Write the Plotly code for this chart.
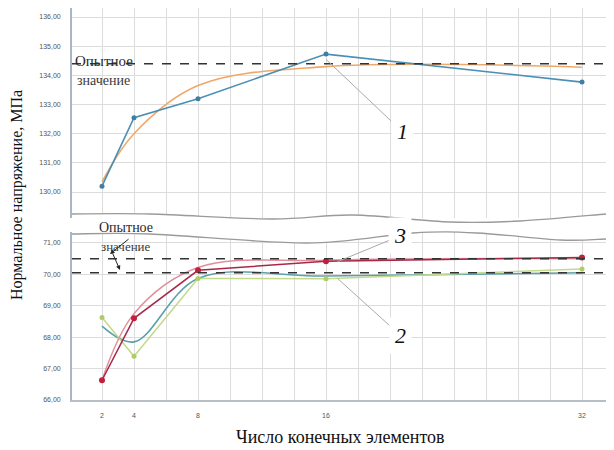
import plotly.graph_objects as go

# ---------------- data ----------------
x_elems = [2, 4, 8, 16, 32]
x_ticklabels = ["2", "4", "8", "16", "32"]

# upper panel (curve 1)
top_fem = [130.2, 132.55, 133.2, 134.73, 133.77]      # blue, with markers
top_fit = [130.35, 132.0, 133.65, 134.3, 134.28]       # orange smooth
exp_top = 134.4                                         # experimental value

# lower panel (curves 2 and 3)
bot_red = [66.63, 68.6, 70.13, 70.42, 70.54]           # dark red, markers
bot_red_fit = [66.63, 68.75, 70.22, 70.45, 70.5]       # pink smooth
bot_green = [68.63, 67.39, 69.87, 69.86, 70.17]        # yellow-green, markers
bot_teal = [68.35, 67.85, 69.87, 69.95, 70.05]         # teal smooth
exp_bot = [70.5, 70.05]                                 # experimental values

top_yticks = [130, 131, 132, 133, 134, 135, 136]
bot_yticks = [66, 67, 68, 69, 70, 71]
top_yticklabels = [f"{v},00" for v in top_yticks]
bot_yticklabels = [f"{v},00" for v in bot_yticks]

# ---------------- layout helpers (window pixel coordinates) ----------------
OFF = 8                      # page body margin
W, H = 614 - OFF, 450 - OFF  # figure size
L, R, T, B = 72, 606, 8, 400  # plot area in window pixels
PW, PH = R - L, B - T


def px(xp):
    return (xp - L) / PW


def py(yp):
    return (B - yp) / PH


def smooth_path(pts):
    P = [(px(a), py(b)) for a, b in pts]
    s = f"M {P[0][0]:.4f},{P[0][1]:.4f}"
    n = len(P)
    for i in range(n - 1):
        p0 = P[i - 1] if i > 0 else P[i]
        p1 = P[i]
        p2 = P[i + 1]
        p3 = P[i + 2] if i + 2 < n else P[i + 1]
        c1 = (p1[0] + (p2[0] - p0[0]) / 6, p1[1] + (p2[1] - p0[1]) / 6)
        c2 = (p2[0] - (p3[0] - p1[0]) / 6, p2[1] - (p3[1] - p1[1]) / 6)
        s += f" C {c1[0]:.4f},{c1[1]:.4f} {c2[0]:.4f},{c2[1]:.4f} {p2[0]:.4f},{p2[1]:.4f}"
    return s


wave_top = [(72, 214), (150, 214), (272, 219), (353, 215), (450, 222), (520, 221), (606, 214)]
wave_bot = [(72, 234), (150, 234), (307, 243), (413, 233), (477, 233), (560, 240), (606, 239)]

grid_c = "#dcdcdc"
serif = "Liberation Serif, Times New Roman, serif"

fig = go.Figure()

# upper panel traces
fig.add_trace(go.Scatter(x=x_elems, y=top_fit, mode="lines", line=dict(color="#f0a868", width=1.6, shape="spline"),
                         xaxis="x2", yaxis="y2", showlegend=False))
fig.add_trace(go.Scatter(x=x_elems, y=top_fem, mode="lines+markers", line=dict(color="#4a8fb5", width=1.6),
                         marker=dict(color="#3f7fa5", size=5), xaxis="x2", yaxis="y2", showlegend=False))

# lower panel traces
fig.add_trace(go.Scatter(x=x_elems, y=bot_teal, mode="lines", line=dict(color="#5aa0aa", width=1.6, shape="spline"),
                         xaxis="x", yaxis="y", showlegend=False))
fig.add_trace(go.Scatter(x=x_elems, y=bot_green, mode="lines+markers", line=dict(color="#c2da8a", width=1.5),
                         marker=dict(color="#b0cc66", size=5), xaxis="x", yaxis="y", showlegend=False))
fig.add_trace(go.Scatter(x=x_elems, y=bot_red_fit, mode="lines", line=dict(color="#e0909c", width=1.5, shape="spline"),
                         xaxis="x", yaxis="y", showlegend=False))
fig.add_trace(go.Scatter(x=x_elems, y=bot_red, mode="lines+markers", line=dict(color="#a82848", width=1.5),
                         marker=dict(color="#c0203c", size=6), xaxis="x", yaxis="y", showlegend=False))

shapes = []
# experimental dashed lines
shapes.append(dict(type="line", xref="paper", yref="y2", x0=0, x1=px(614), y0=exp_top, y1=exp_top,
                   line=dict(color="#333333", width=1.6, dash="dash"), layer="above"))
for v in exp_bot:
    shapes.append(dict(type="line", xref="paper", yref="y", x0=0, x1=px(614), y0=v, y1=v,
                       line=dict(color="#333333", width=1.6, dash="dash"), layer="above"))

# white band between the break waves
band = smooth_path(wave_top)
rev = smooth_path(list(reversed(wave_bot)))
band_path = band + " L" + rev[1:] + " Z"
shapes.append(dict(type="path", xref="paper", yref="paper", path=band_path,
                   fillcolor="white", line=dict(width=0), layer="above"))
shapes.append(dict(type="path", xref="paper", yref="paper", path=smooth_path(wave_top),
                   line=dict(color="#9a9a9a", width=1.3), layer="above"))
shapes.append(dict(type="path", xref="paper", yref="paper", path=smooth_path(wave_bot),
                   line=dict(color="#9a9a9a", width=1.3), layer="above"))

annotations = []
# axis titles
annotations.append(dict(text="Нормальное напряжение, МПа", xref="paper", yref="paper", x=px(17), y=py(195),
                        xanchor="center", yanchor="middle", textangle=-90, showarrow=False,
                        font=dict(family=serif, size=16, color="#111")))
annotations.append(dict(text="Число конечных элементов", xref="paper", yref="paper", x=px(340), y=py(437),
                        xanchor="center", yanchor="middle", showarrow=False,
                        font=dict(family=serif, size=18, color="#111")))

# "Опытное значение" labels
annotations.append(dict(text="Опытное", xref="paper", yref="paper", x=px(73), y=py(61), xanchor="left",
                        yanchor="middle", showarrow=False, font=dict(family=serif, size=15, color="#2a2a2a")))
annotations.append(dict(text="значение", xref="paper", yref="paper", x=px(75), y=py(80), xanchor="left",
                        yanchor="middle", showarrow=False, font=dict(family=serif, size=14, color="#3a3a3a")))
annotations.append(dict(text="Опытное", xref="paper", yref="paper", x=px(97), y=py(227), xanchor="left",
                        yanchor="middle", showarrow=False, font=dict(family=serif, size=14, color="#2a2a2a")))
annotations.append(dict(text="значение", xref="paper", yref="paper", x=px(99), y=py(246), xanchor="left",
                        yanchor="middle", showarrow=False, font=dict(family=serif, size=13, color="#3a3a3a")))
annotations.append(dict(text="", xref="paper", yref="paper", x=px(110), y=py(254), ax=20, ay=-16,
                        showarrow=True, arrowhead=2, arrowsize=0.9, arrowwidth=1, arrowcolor="#222"))
annotations.append(dict(text="", xref="paper", yref="paper", x=px(120), y=py(270), ax=-8, ay=-18,
                        showarrow=True, arrowhead=2, arrowsize=0.9, arrowwidth=1, arrowcolor="#222"))

# curve numbers with leader lines
annotations.append(dict(text="<i>1</i>", xref="x2", yref="y2", x=16, y=134.55, ax=76, ay=72,
                        showarrow=True, arrowhead=0, arrowwidth=1, arrowcolor="#aaaaaa",
                        bgcolor="white", borderpad=5, font=dict(family=serif, size=22, color="#111")))
annotations.append(dict(text="<i>3</i>", xref="x", yref="y", x=16.7, y=70.4, ax=63, ay=-26,
                        showarrow=True, arrowhead=0, arrowwidth=1, arrowcolor="#aaaaaa",
                        bgcolor="white", borderpad=5, font=dict(family=serif, size=22, color="#111")))
annotations.append(dict(text="<i>2</i>", xref="x", yref="y", x=16.7, y=69.88, ax=63, ay=57,
                        showarrow=True, arrowhead=0, arrowwidth=1, arrowcolor="#aaaaaa",
                        bgcolor="white", borderpad=5, font=dict(family=serif, size=22, color="#111")))

tickfont = dict(family="Arial, sans-serif", size=7, color="#555")
xcommon = dict(range=[0.125, 33.5], tickvals=x_elems, ticktext=x_ticklabels, showgrid=True, gridcolor=grid_c,
               gridwidth=1, minor=dict(dtick=2, tick0=0, showgrid=True, gridcolor=grid_c), zeroline=False,
               tickfont=tickfont, ticks="")

fig.update_layout(
    width=W, height=H, margin=dict(l=L - OFF, r=(W + OFF) - R, t=T - OFF, b=(H + OFF) - B),
    plot_bgcolor="white", paper_bgcolor="white",
    xaxis=dict(**xcommon, anchor="y", showline=True, linecolor="#b8bec6", linewidth=1.5, ticklabelstandoff=8),
    xaxis2=dict(**xcommon, anchor="y2", matches="x", showticklabels=False, showline=False),
    yaxis=dict(domain=[0, py(232)], range=[66, 71.35], tickvals=bot_yticks, ticktext=bot_yticklabels,
               showgrid=True, gridcolor=grid_c, zeroline=False, showline=True, linecolor="#a8b6c6",
               linewidth=1.8, mirror=True, tickfont=tickfont, ticks="", ticklabelstandoff=8),
    yaxis2=dict(domain=[py(218), 1], range=[129.11, 136.31], tickvals=top_yticks, ticktext=top_yticklabels,
                showgrid=True, gridcolor=grid_c, zeroline=False, showline=True, linecolor="#a8b6c6",
                linewidth=1.8, tickfont=tickfont, ticks="", ticklabelstandoff=8),
    shapes=shapes, annotations=annotations,
)

fig.write_html("out.html")
